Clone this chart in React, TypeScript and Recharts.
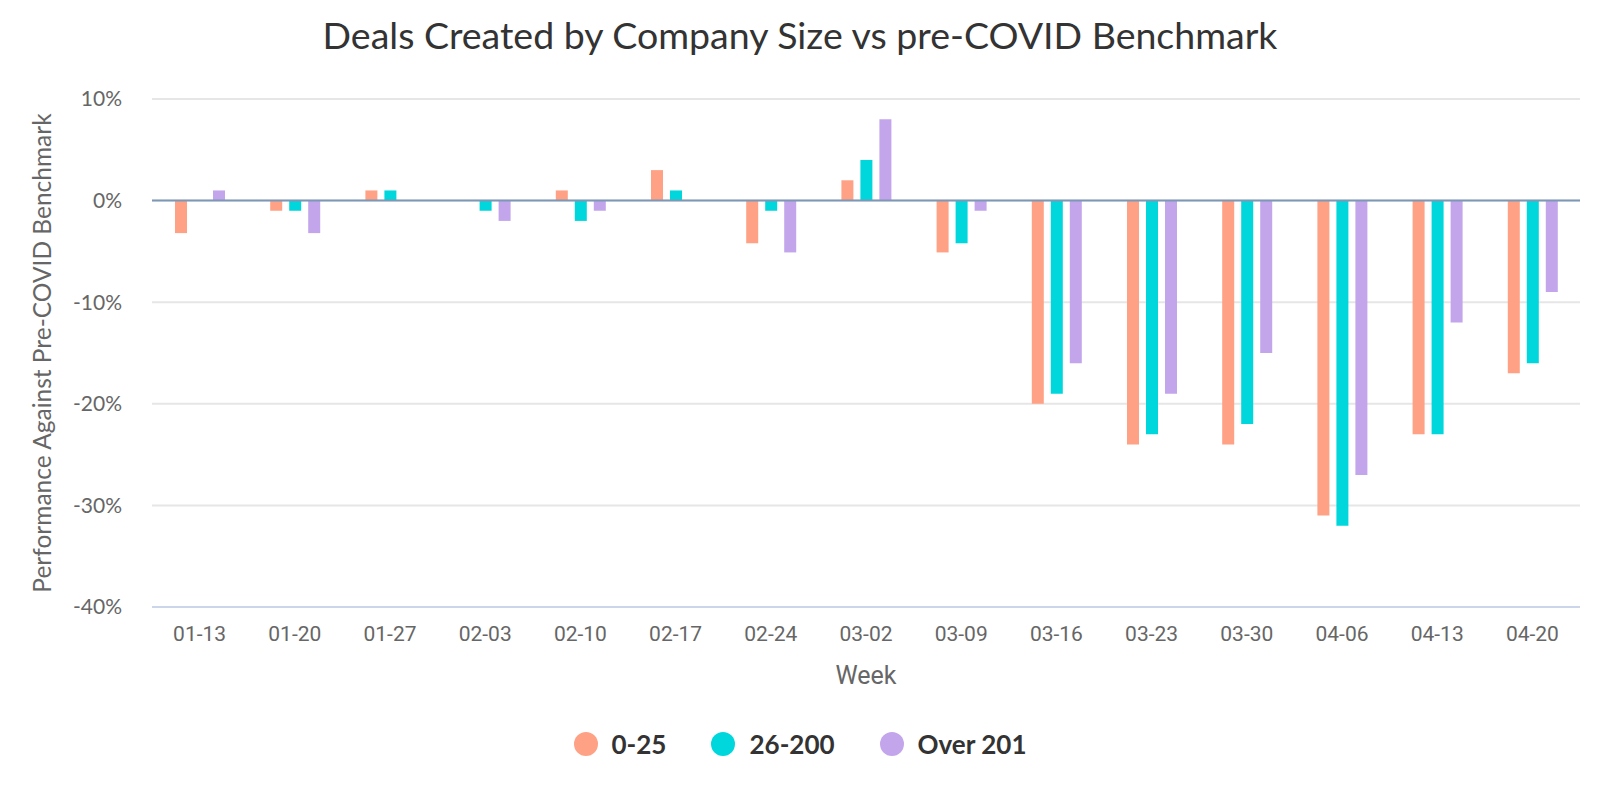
import { Bar, BarChart, CartesianGrid, ReferenceLine, XAxis, YAxis } from "recharts";

const WEEKS = ["01-13", "01-20", "01-27", "02-03", "02-10", "02-17", "02-24", "03-02", "03-09", "03-16", "03-23", "03-30", "04-06", "04-13", "04-20"];
const SMALL = [-3.2, -1, 1, 0, 1, 3, -4.2, 2, -5.1, -20, -24, -24, -31, -23, -17];
const MID = [0, -1, 1, -1, -2, 1, -1, 4, -4.2, -19, -23, -22, -32, -23, -16];
const LARGE = [1, -3.2, 0, -2, -1, 0, -5.1, 8, -1, -16, -19, -15, -27, -12, -9];
const Y_TICKS = [10, 0, -10, -20, -30, -40];

const SERIES = [
  { key: "small", label: "0-25", color: "#ffa185" },
  { key: "mid", label: "26-200", color: "#00d7dc" },
  { key: "large", label: "Over 201", color: "#c3a5ec" },
];

const data = WEEKS.map((week, i) => ({ week, small: SMALL[i], mid: MID[i], large: LARGE[i] }));

export default function App() {
  return (
    <div style={{ position: "absolute", left: 0, top: 0, width: 1600, height: 800, background: "#fff" }}>
      <div
        style={{
          position: "absolute", left: 0, top: 12, width: 1600, textAlign: "center",
          fontFamily: "Lato, sans-serif", fontSize: 37.5, color: "#333",
        }}
      >
        Deals Created by Company Size vs pre-COVID Benchmark
      </div>
      <BarChart
        width={1600}
        height={800}
        data={data}
        margin={{ top: 99, right: 20, bottom: 113, left: 72 }}
        barSize={12}
        barGap={7}
      >
        <CartesianGrid horizontal vertical={false} stroke="#e6e6e6" strokeWidth={2} />
        <XAxis
          dataKey="week"
          height={80}
          tickLine={false}
          tickMargin={13}
          axisLine={{ stroke: "#ccd6eb", strokeWidth: 2 }}
          tick={{ fill: "#666", fontSize: 21, fontFamily: "Roboto, sans-serif" }}
          label={{ value: "Week", position: "insideBottom", offset: 3, fill: "#666", fontSize: 25, fontFamily: "Roboto, sans-serif" }}
        />
        <YAxis
          width={80}
          domain={[-40, 10]}
          ticks={Y_TICKS}
          interval={0}
          tickFormatter={(v) => `${v}%`}
          axisLine={false}
          tickLine={false}
          tickMargin={24}
          tick={{ fill: "#666", fontSize: 21, fontFamily: "Lato, sans-serif" }}
          label={{
            value: "Performance Against Pre-COVID Benchmark", angle: -90, position: "left", offset: 30,
            fill: "#666", fontSize: 24.5, fontFamily: "Lato, sans-serif", style: { textAnchor: "middle" },
          }}
        />
        <ReferenceLine y={0} stroke="#7c98b6" strokeWidth={2} />
        {SERIES.map((s) => (
          <Bar key={s.key} dataKey={s.key} name={s.label} fill={s.color} isAnimationActive={false} />
        ))}
      </BarChart>
      <div
        style={{
          position: "absolute", left: 0, top: 728, width: 1600, display: "flex", justifyContent: "center",
          gap: 45, fontFamily: "Lato, sans-serif", fontWeight: 700, fontSize: 26, color: "#333",
        }}
      >
        {SERIES.map((s) => (
          <div key={s.key} style={{ display: "flex", alignItems: "center", gap: 14 }}>
            <span style={{ width: 24, height: 24, borderRadius: 12, background: s.color, display: "inline-block" }} />
            {s.label}
          </div>
        ))}
      </div>
    </div>
  );
}
